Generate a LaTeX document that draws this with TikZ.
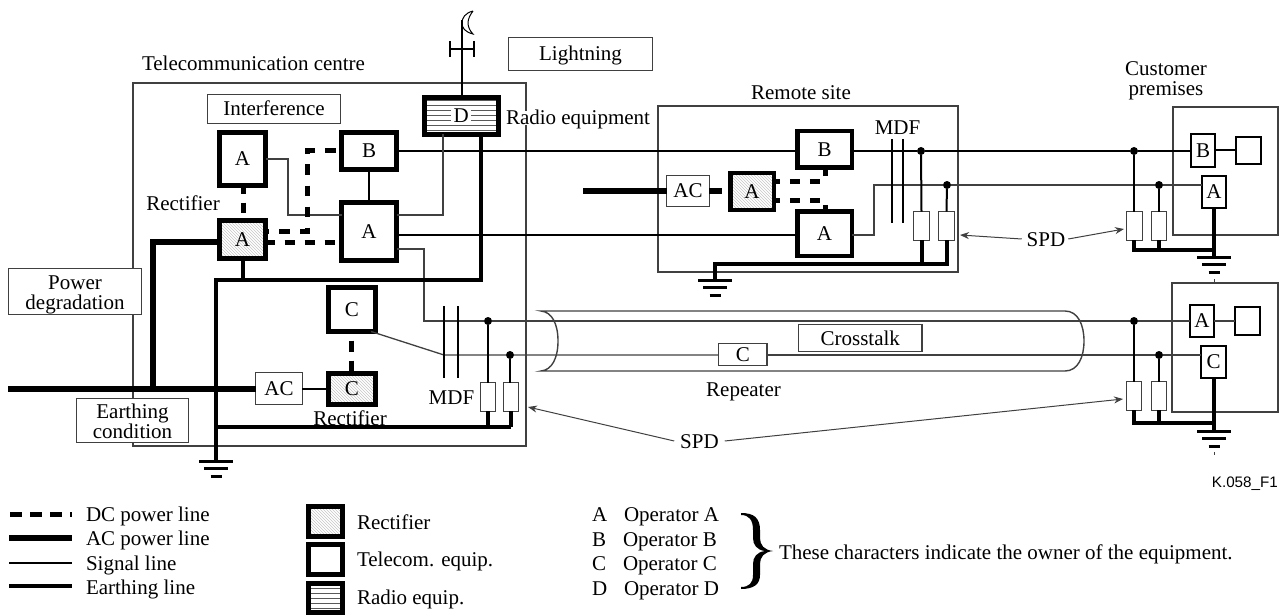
\documentclass[tikz,border=0pt]{standalone}
\usepackage{fontspec}
\setmainfont{Liberation Serif}
\newfontfamily\helv{Liberation Sans}
\usetikzlibrary{patterns,arrows.meta,calc}
\definecolor{thinc}{gray}{0.25}
\tikzset{
  bxbase/.style={draw,outer sep=0pt,inner sep=0pt,fill=white},
  plain/.style={draw=thinc},
  rectifier/.style={pattern=north west lines,pattern color=gray!45},
  stripes/.style={path picture={
     \foreach \k in {-15,-10,-5,0,5,10,15}
       \draw[gray!70!black,line width=1pt] ([yshift=\k pt]path picture bounding box.west) -- ([yshift=\k pt]path picture bounding box.east);}},
  dgap/.style={path picture={
     \foreach \k in {-15,-10,-5,0,5,10,15}
       \draw[gray!70!black,line width=1pt] ([yshift=\k pt]path picture bounding box.west) -- ([yshift=\k pt]path picture bounding box.east);
     \fill[white] ([shift={(-10pt,-8pt)}]path picture bounding box.center) rectangle ([shift={(10pt,8pt)}]path picture bounding box.center);}},
  lbl/.style={inner sep=0pt,outer sep=0pt,text height=14pt,text depth=0pt},
  one/.style={text height=14pt,text depth=0pt},
  multi/.style={align=center,inner sep=0pt},
  sigthin/.style={draw=thinc,line width=1.3pt},
  sigln/.style={line width=2pt},
  earthln/.style={line width=4pt},
  acln/.style={line width=6pt},
  dcln/.style={line width=5pt},
  mdfbar/.style={line width=2pt},
  leader/.style={draw=thinc,line width=1pt,-{Stealth[length=9pt,width=7pt]}},
  gndbar/.style={line width=3pt},
  junct/.style={circle,fill=black,minimum size=8pt,inner sep=0pt,outer sep=0pt},
  site/.style={draw=thinc,line width=1.3pt},
  cable/.style={draw=thinc,line width=1.4pt},
}
\newcommand{\bx}[8][]{%
  \pgfmathsetmacro{\mycx}{(#3+#5)/2}\pgfmathsetmacro{\mycy}{(#4+#6)/2}%
  \pgfmathsetmacro{\mybw}{#5-#3-#7}\pgfmathsetmacro{\mybh}{#6-#4-#7}%
  \node[bxbase,line width=#7pt,minimum width=\mybw pt,minimum height=\mybh pt,#1] (#2) at (\mycx,\mycy) {#8};}
\newcommand{\gnd}[3]{%
  \coordinate (#1) at (#2,#3);
  \draw[gndbar] ($(#1)+(-17,0)$) -- ($(#1)+(17,0)$);
  \draw[gndbar] ($(#1)+(-12,7)$) -- ($(#1)+(12,7)$);
  \draw[gndbar] ($(#1)+(-5.5,15)$) -- ($(#1)+(5.5,15)$);}
\begin{document}
\begin{tikzpicture}[x=1pt,y=-1pt,every node/.append style={font=\fontsize{21}{20}\selectfont}]
\useasboundingbox (0,0) rectangle (1288,615);

% --- sites
\draw[site] (133,83) rectangle (526,446);
\draw[site] (658,106) rectangle (958,272);
\draw[site] (1173,107) rectangle (1278,235);
\draw[site] (1172,283) rectangle (1278,412);
\draw[draw=thinc,line width=1pt] (1214,279) -- (1214,283);
\draw[draw=thinc,line width=1pt] (1214,452) -- (1214,455);
\node[lbl,anchor=west] (ltc) at (142,64) {Telecommunication centre};
\node[lbl] (lrs) at (801,93) {Remote site};
\node[multi] (lcp) at (1166,81) {Customer\\premises};

% --- cable
\draw[cable] (541,371) .. controls (552,370) and (558,358) .. (558,341) .. controls (558,324) and (552,312) .. (541,311)
  -- (1065,311) .. controls (1078,311) and (1084,325) .. (1084,341) .. controls (1084,357) and (1078,371) .. (1065,371) -- cycle;

% --- equipment
\bx{Atop}{217}{130}{268}{188}{5}{A}
\bx{Bc}{339}{130}{399}{172}{5}{B}
\bx{Ac}{339}{200}{399}{263}{5}{A}
\bx[rectifier]{Ar}{217}{218}{268}{261}{5}{A}
\bx[dgap]{Dc}{421.5}{95}{501}{137}{5}{D}
\bx{Ctop}{326}{285}{377.5}{334}{5}{C}
\bx[rectifier]{Cr}{326}{371}{377.5}{407}{5}{C}
\bx[plain]{ACc}{255}{372}{303}{405}{1.3}{AC}
\bx{Br}{795}{129}{854}{170}{4.5}{B}
\bx{Arm}{795}{209}{854}{258}{4.5}{A}
\bx[rectifier]{Arr}{728}{171}{776}{212}{4.5}{A}
\bx[plain]{ACr}{666}{175}{710}{207}{1.3}{AC}
\bx{Bcu}{1190}{133}{1216}{168}{2}{B}
\bx{Ecu}{1235}{136}{1262}{165}{2}{}
\bx{Acu}{1201}{175}{1227}{209}{2}{A}
\bx{Acv}{1189}{304}{1215}{338}{2}{A}
\bx{Ecv}{1234}{306}{1261}{336}{2}{}
\bx{Ccv}{1200}{345}{1227}{379}{2}{C}
\bx[plain]{rep}{718}{343}{767.5}{366}{1.3}{C}

% SPD boxes
\bx[plain]{s1}{480}{382}{496}{412}{1.3}{}
\bx[plain]{s2}{503}{382}{519}{412}{1.3}{}
\bx[plain]{s3}{913}{211}{930}{241}{1.3}{}
\bx[plain]{s4}{938}{211}{955}{241}{1.3}{}
\bx[plain]{s5}{1126}{211}{1143}{241}{1.3}{}
\bx[plain]{s6}{1151}{211}{1167}{241}{1.3}{}
\bx[plain]{s7}{1126}{381}{1142}{411}{1.3}{}
\bx[plain]{s8}{1151}{381}{1167}{411}{1.3}{}

% junctions
\node[junct] (d1) at (488,321) {};
\node[junct] (d2) at (510,355) {};
\node[junct] (d3) at (921,151) {};
\node[junct] (d4) at (947,185) {};
\node[junct] (d5) at (1134,151) {};
\node[junct] (d6) at (1159,185) {};
\node[junct] (d7) at (1134,321) {};
\node[junct] (d8) at (1159,355) {};

% named corners
\coordinate (c1) at (288,215);
\coordinate (c2) at (443,215);
\coordinate (c3) at (424,249);
\coordinate (c4) at (424,321);
\coordinate (c5) at (481,280);
\coordinate (c6) at (216,280);
\coordinate (c7) at (216,427);
\coordinate (c8) at (511,427);
\coordinate (c9) at (444,355);
\coordinate (c10) at (874,185);
\coordinate (c11) at (715,264);
\coordinate (c12) at (947,264);
\coordinate (c13) at (1134,250);
\coordinate (c14) at (1214,250);
\coordinate (c15) at (1134,423);
\coordinate (c16) at (1214,423);
\coordinate (c17) at (153,242);
\coordinate (c18) at (153,389);
\coordinate (c19) at (8,389);
\coordinate (c20) at (583,191);
\coordinate (c21) at (722,191);
\coordinate (c22) at (825,181);
\coordinate (c23) at (825,200);
\coordinate (c24) at (307,151);
\coordinate (c25) at (307,231);
\coordinate (c26) at (243,280);

% grounds
\gnd{g1}{216}{461}
\gnd{g2}{715}{280}
\gnd{g3}{1214}{257}
\gnd{g4}{1214}{431}

% signal lines
\draw[sigthin] (Atop.east) -| (c1) -- (Ac.west |- c1);
\draw[sigln] (Bc.south -| 369,0) -- (Ac.north -| 369,0);
\draw[sigln] (Bc.east |- d3) -- (Br.west |- d3);
\draw[sigln] (Br.east |- d3) -- (d3) -- (d5) -- (Bcu.west |- d5);
\draw[sigln] (Bcu.east |- Ecu.west) -- (Ecu.west);
\draw[sigthin] (Ac.east |- c2) -- (c2) -- (Dc.south -| c2);
\draw[sigln] (Ac.east |- 0,235) -- (Arm.west |- 0,235);
\draw[sigthin] (Ac.east |- c3) -- (c3) -- (c4) -- (d1) -- (d7) -- (Acv.west |- d7);
\draw[sigthin] (Acv.east |- Ecv.west) -- (Ecv.west);
\draw[sigthin] (Ctop.south -| 371,0) -- (c9) -- (d2) -- (rep.west |- d2);
\draw[sigthin] (rep.east |- d2) -- (d8) -- (Ccv.west |- d8);
\draw[sigthin] (Arm.east |- 0,235) -- (c10 |- 0,235) -- (c10) -- (d4) -- (d6) -- (Acu.west |- d6);
\draw[sigln] (ACc.east) -- (Cr.west |- ACc.east);

% antenna
\coordinate (ant) at (462,20);
\draw[sigln] (ant |- Dc.north) -- (ant);
\draw[sigln] (450,49) -- (474,49);
\draw[sigln] (450,41) -- (450,57);
\draw[sigln] (474,41) -- (474,57);
\draw[line width=1pt] (473,11) .. controls (465,13) and (462,18) .. (462,23) .. controls (462,28) and (465,32) .. (473,34)
   .. controls (470,31) and (468,27) .. (468,23) .. controls (468,19) and (470,15) .. (473,11);

% MDF bars
\draw[mdfbar] (444,306) -- (444,378);
\draw[mdfbar] (458,306) -- (458,378);
\draw[mdfbar] (892,139) -- (892,223);
\draw[mdfbar] (903,139) -- (903,223);

% junction to SPD
\draw[sigln] (d1) -- (s1.north);
\draw[sigln] (d2) -- (d2 |- s2.north);
\draw[sigln] (d3) -- (s3.north);
\draw[sigln] (d4) -- (s4.north);
\draw[sigln] (d5) -- (d5 |- s5.north);
\draw[sigln] (d6) -- (s6.north);
\draw[sigln] (d7) -- (d7 |- s7.north);
\draw[sigln] (d8) -- (s8.north);

% earthing
\draw[earthln,line join=miter] (Dc.south -| c5) -- (c5) -- (c6) -- (g1);
\draw[earthln] (Ar.south -| c26) -- (c26);
\draw[earthln] (c7) -- (c8);
\draw[earthln] (s1.south) -- (s1.south |- c8);
\draw[earthln] (c8) -- (c8 |- s2.south);
\draw[earthln] (g2) -- (c11) -- (c12) -- (c12 |- s4.south);
\draw[earthln] (s3.south) -- (s3.south |- c12);
\draw[earthln] (c13 |- s5.south) -- (c13) -- (c14);
\draw[earthln] (s6.south) -- (s6.south |- c14);
\draw[earthln] (Acu.south -| c14) -- (g3);
\draw[earthln] (c15 |- s7.south) -- (c15) -- (c16);
\draw[earthln] (s8.south) -- (s8.south |- c16);
\draw[earthln] (Ccv.south -| c16) -- (g4);

% AC
\draw[acln] (Ar.west |- c17) -- (c17) -- (c18);
\draw[acln] (c19) -- (ACc.west |- c19);
\draw[acln] (c20) -- (ACr.west |- c20);
\draw[acln] (ACr.east |- c21) -- (c21);

% DC
\draw[dcln,dash pattern=on 10pt off 9pt,dash phase=2pt] (Atop.south -| 243,0) -- (Ar.north -| 243,0);
\draw[dcln,dash pattern=on 10pt off 10pt,dash phase=1pt] (Ar.east |- 0,242) -- (Ac.west |- 0,242);
\draw[dcln,dash pattern=on 10.5pt off 10.5pt,dash phase=15pt] (Bc.west |- c24) -- (c24) -- (c25) -- (Ar.east |- c25);
\draw[dcln,dash pattern=on 11pt off 9pt,dash phase=11pt] (Ctop.south -| 351,0) -- (Cr.north -| 351,0);
\draw[dcln,dash pattern=on 10pt off 10pt,dash phase=4pt] (Arr.east |- c22) -- (c22) -- (c22 |- Br.south);
\draw[dcln,dash pattern=on 10pt off 10pt,dash phase=4pt] (Arr.east |- c23) -- (c23) -- (c23 |- Arm.north);

% label boxes
\bx[plain,one]{intf}{207}{94}{341}{124}{1.3}{Interference}
\bx[plain,one]{ltn}{508}{37}{653}{71}{1.3}{Lightning}
\bx[plain,one]{xtk}{798}{324}{922.5}{352}{1.3}{Crosstalk}
\bx[plain,multi]{pwr}{8}{268}{142}{315}{1.3}{\rule{0pt}{20pt}Power\\degradation}
\bx[plain,multi]{ecd}{76}{398}{189}{443}{1.3}{\rule{0pt}{16pt}Earthing\\condition}

% text labels
\node[lbl,anchor=west,fill=white] (lre) at (506,118) {Radio equipment};
\node[lbl] (lr1) at (183,204) {Rectifier};
\node[lbl] (lr2) at (350,418) {Rectifier};
\node[lbl] (lm1) at (451.5,397) {MDF};
\node[lbl] (lm2) at (897.5,128) {MDF};
\node[lbl] (lrep) at (743.5,389) {Repeater};
\node[lbl] (spdB) at (699.5,441) {SPD};
\node[lbl] (spdM) at (1046,239) {SPD};
\node[font=\helv\fontsize{15.2}{16}\selectfont,anchor=east,inner sep=0pt] (kno) at (1278,484) {K.058\_F1};

% SPD leaders
\coordinate (t1) at (528,407);
\coordinate (t2) at (1123,399);
\coordinate (t3) at (960,235);
\coordinate (t4) at (1124,229);
\draw[leader] ([xshift=-6pt]spdB.west) -- (t1);
\draw[leader] ([xshift=6pt]spdB.east) -- (t2);
\draw[leader] ([xshift=-5pt]spdM.west) -- (t3);
\draw[leader] ([xshift=3pt]spdM.east) -- (t4);

% legend: lines
\coordinate (la) at (10,514); \coordinate (lb) at (72,514);
\coordinate (lc) at (9,538); \coordinate (ld) at (72,538);
\coordinate (le) at (9,563); \coordinate (lf) at (72,563);
\coordinate (lg) at (9,586); \coordinate (lh) at (72,586);
\draw[dcln,dash pattern=on 12pt off 8pt] (la) -- (lb);
\draw[acln] (lc) -- (ld);
\draw[line width=1.5pt] (le) -- (lf);
\draw[line width=3.5pt] (lg) -- (lh);
\node[lbl,anchor=west] (t1a) at (86,514) {DC power line};
\node[lbl,anchor=west] (t1b) at (86,538) {AC power line};
\node[lbl,anchor=west] (t1c) at (86,563) {Signal line};
\node[lbl,anchor=west] (t1d) at (86,587) {Earthing line};

% legend: symbols
\bx[rectifier]{ks1}{306}{504}{345}{539}{5}{}
\bx{ks2}{306}{542}{345}{577}{5}{}
\bx[stripes]{ks3}{306}{581}{345}{615}{5}{}
\node[lbl,anchor=west] (t2a) at (357,522) {Rectifier};
\node[lbl,anchor=west] (t2b) at (357,559) {Telecom. equip.};
\node[lbl,anchor=west] (t2c) at (357,597) {Radio equip.};

% legend: operators
\node[lbl,anchor=west] (oa) at (592,514) {A};
\node[lbl,anchor=west] (ob) at (592,539) {B};
\node[lbl,anchor=west] (oc) at (592,563) {C};
\node[lbl,anchor=west] (od) at (592,588) {D};
\node[lbl,anchor=west] (pa) at (624,514) {Operator A};
\node[lbl,anchor=west] (pb) at (623,539) {Operator B};
\node[lbl,anchor=west] (pc) at (623,563) {Operator C};
\node[lbl,anchor=west] (pd) at (624,588) {Operator D};
\fill (741,513) .. controls (754,513) and (760,518) .. (760,530) -- (760,538)
   .. controls (760,545) and (764,550) .. (773,551)
   .. controls (764,552) and (760,557) .. (760,564) -- (760,575)
   .. controls (760,584) and (754,589) .. (741,589) -- (741,587)
   .. controls (749,587) and (753,583) .. (753,575) -- (753,564)
   .. controls (753,557) and (757,552) .. (765,551)
   .. controls (757,550) and (753,545) .. (753,538) -- (753,530)
   .. controls (753,520) and (749,515) .. (741,515) -- cycle;
\node[lbl,anchor=west] (own) at (779,552) {These characters indicate the owner of the equipment.};
\end{tikzpicture}
\end{document}
